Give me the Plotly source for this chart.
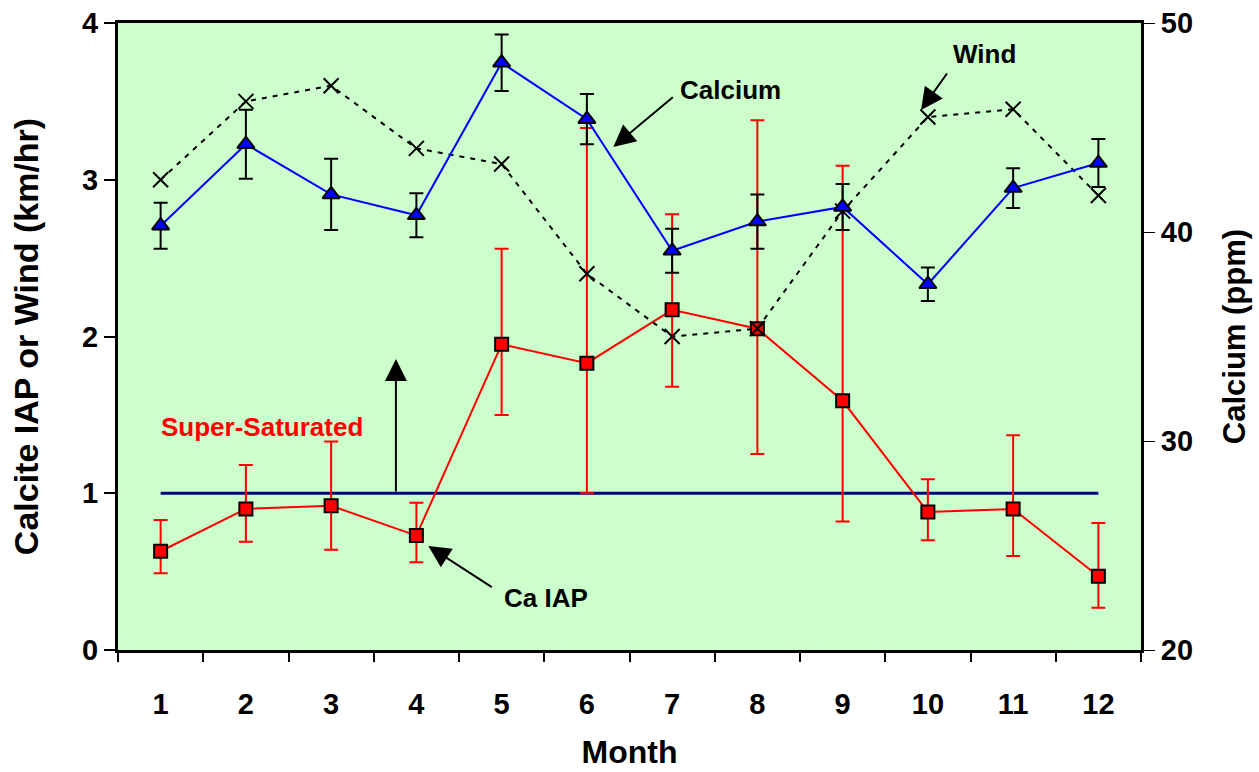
import plotly.graph_objects as go

months = list(range(1, 13))
month_labels = [str(m) for m in months]

ca_iap = [0.63, 0.90, 0.92, 0.73, 1.95, 1.83, 2.17, 2.05, 1.59, 0.88, 0.90, 0.47]
ca_iap_hi = [0.83, 1.18, 1.33, 0.94, 2.56, 3.33, 2.78, 3.38, 3.09, 1.09, 1.37, 0.81]
ca_iap_lo = [0.49, 0.69, 0.64, 0.56, 1.50, 1.00, 1.68, 1.25, 0.82, 0.70, 0.60, 0.27]

wind = [3.0, 3.5, 3.6, 3.2, 3.1, 2.4, 2.0, 2.05, 2.8, 3.4, 3.45, 2.9]

calcium = [40.3, 44.2, 41.8, 40.8, 48.1, 45.4, 39.1, 40.5, 41.2, 37.5, 42.1, 43.3]
calcium_err = [1.1, 1.65, 1.7, 1.05, 1.35, 1.2, 1.05, 1.3, 1.1, 0.8, 0.95, 1.15]

saturation_x = [1, 12]
saturation_y = [1, 1]

FONT = "Liberation Sans, Arial, sans-serif"

fig = go.Figure()

# saturation line
fig.add_trace(go.Scatter(x=saturation_x, y=saturation_y, mode="lines",
                         line=dict(color="#000080", width=3), showlegend=False, hoverinfo="skip"))

# Ca IAP
fig.add_trace(go.Scatter(
    x=months, y=ca_iap, mode="lines+markers",
    line=dict(color="#FF0000", width=2),
    marker=dict(symbol="square", size=13, color="#FF0000", line=dict(color="black", width=2)),
    error_y=dict(type="data", symmetric=False,
                 array=[h - v for h, v in zip(ca_iap_hi, ca_iap)],
                 arrayminus=[v - l for v, l in zip(ca_iap, ca_iap_lo)],
                 color="#FF0000", thickness=2, width=7),
    showlegend=False))

# Wind
fig.add_trace(go.Scatter(
    x=months, y=wind, mode="lines+markers",
    line=dict(color="black", width=2, dash="5px,6px"),
    marker=dict(symbol="x-thin-open", size=15, color="black", line=dict(color="black", width=2)),
    showlegend=False))

# Calcium on secondary axis
fig.add_trace(go.Scatter(
    x=months, y=calcium, mode="lines+markers", yaxis="y2",
    line=dict(color="#0000FF", width=2),
    marker=dict(symbol="triangle-up", size=15, color="#0000FF", line=dict(color="black", width=2)),
    error_y=dict(type="data", array=calcium_err, color="black", thickness=2, width=7),
    showlegend=False))

tickfont = dict(family=FONT, size=29, color="black", weight="bold")

fig.update_layout(
    width=1259, height=772,
    margin=dict(l=118, r=118, t=23, b=122, autoexpand=False),
    paper_bgcolor="white", plot_bgcolor="#CCFFCC",
    xaxis=dict(range=[0.5, 12.5], tickmode="array", tickvals=months, ticktext=month_labels,
               ticks="", showgrid=False, zeroline=False, automargin=False,
               showline=True, linecolor="black", linewidth=3, mirror=True,
               tickfont=tickfont, ticklabelstandoff=26,
               minor=dict(tickmode="linear", tick0=0.5, dtick=1, ticks="outside",
                          ticklen=9, tickwidth=2, tickcolor="black", showgrid=False),
               title=dict(text="Month", font=dict(family=FONT, size=32, color="black", weight="bold"),
                          standoff=22)),
    yaxis=dict(range=[0, 4], dtick=1, ticks="outside", ticklen=11, tickwidth=2, tickcolor="black",
               showgrid=False, zeroline=False, showline=True, linecolor="black", linewidth=3,
               tickfont=tickfont, automargin=False,
               title=dict(text="Calcite IAP or Wind (km/hr)",
                          font=dict(family=FONT, size=34, color="black", weight="bold"), standoff=34)),
    yaxis2=dict(range=[20, 50], dtick=10, overlaying="y", side="right",
                ticks="outside", ticklen=11, tickwidth=1, tickcolor="black",
                showgrid=False, zeroline=False, showline=True, linecolor="black", linewidth=3,
                tickfont=tickfont, automargin=False,
                title=dict(text="Calcium (ppm)",
                           font=dict(family=FONT, size=31, color="black", weight="bold"), standoff=32)),
)

annfont = dict(family=FONT, size=26, color="black", weight="bold")
arrow = dict(showarrow=True, arrowhead=2, arrowsize=2.2, arrowwidth=2, arrowcolor="black",
             standoff=0, text="")

fig.add_annotation(x=7.68, y=3.573, text="Calcium", showarrow=False, font=annfont)
fig.add_annotation(x=6.31, y=3.209, ax=61, ay=-51, **arrow)
fig.add_annotation(x=10.67, y=3.80, text="Wind", showarrow=False, font=annfont)
fig.add_annotation(x=9.92, y=3.445, ax=27, ay=-38, **arrow)
fig.add_annotation(x=2.19, y=1.423, text="Super-Saturated", showarrow=False,
                   font=dict(family=FONT, size=26, color="#FF0000", weight="bold"))
fig.add_annotation(x=3.76, y=1.856, ax=0, ay=134, **arrow)
fig.add_annotation(x=5.52, y=0.332, text="Ca IAP", showarrow=False, font=annfont)
fig.add_annotation(x=4.14, y=0.663, ax=65, ay=42, **arrow)

fig.write_html("out.html")
